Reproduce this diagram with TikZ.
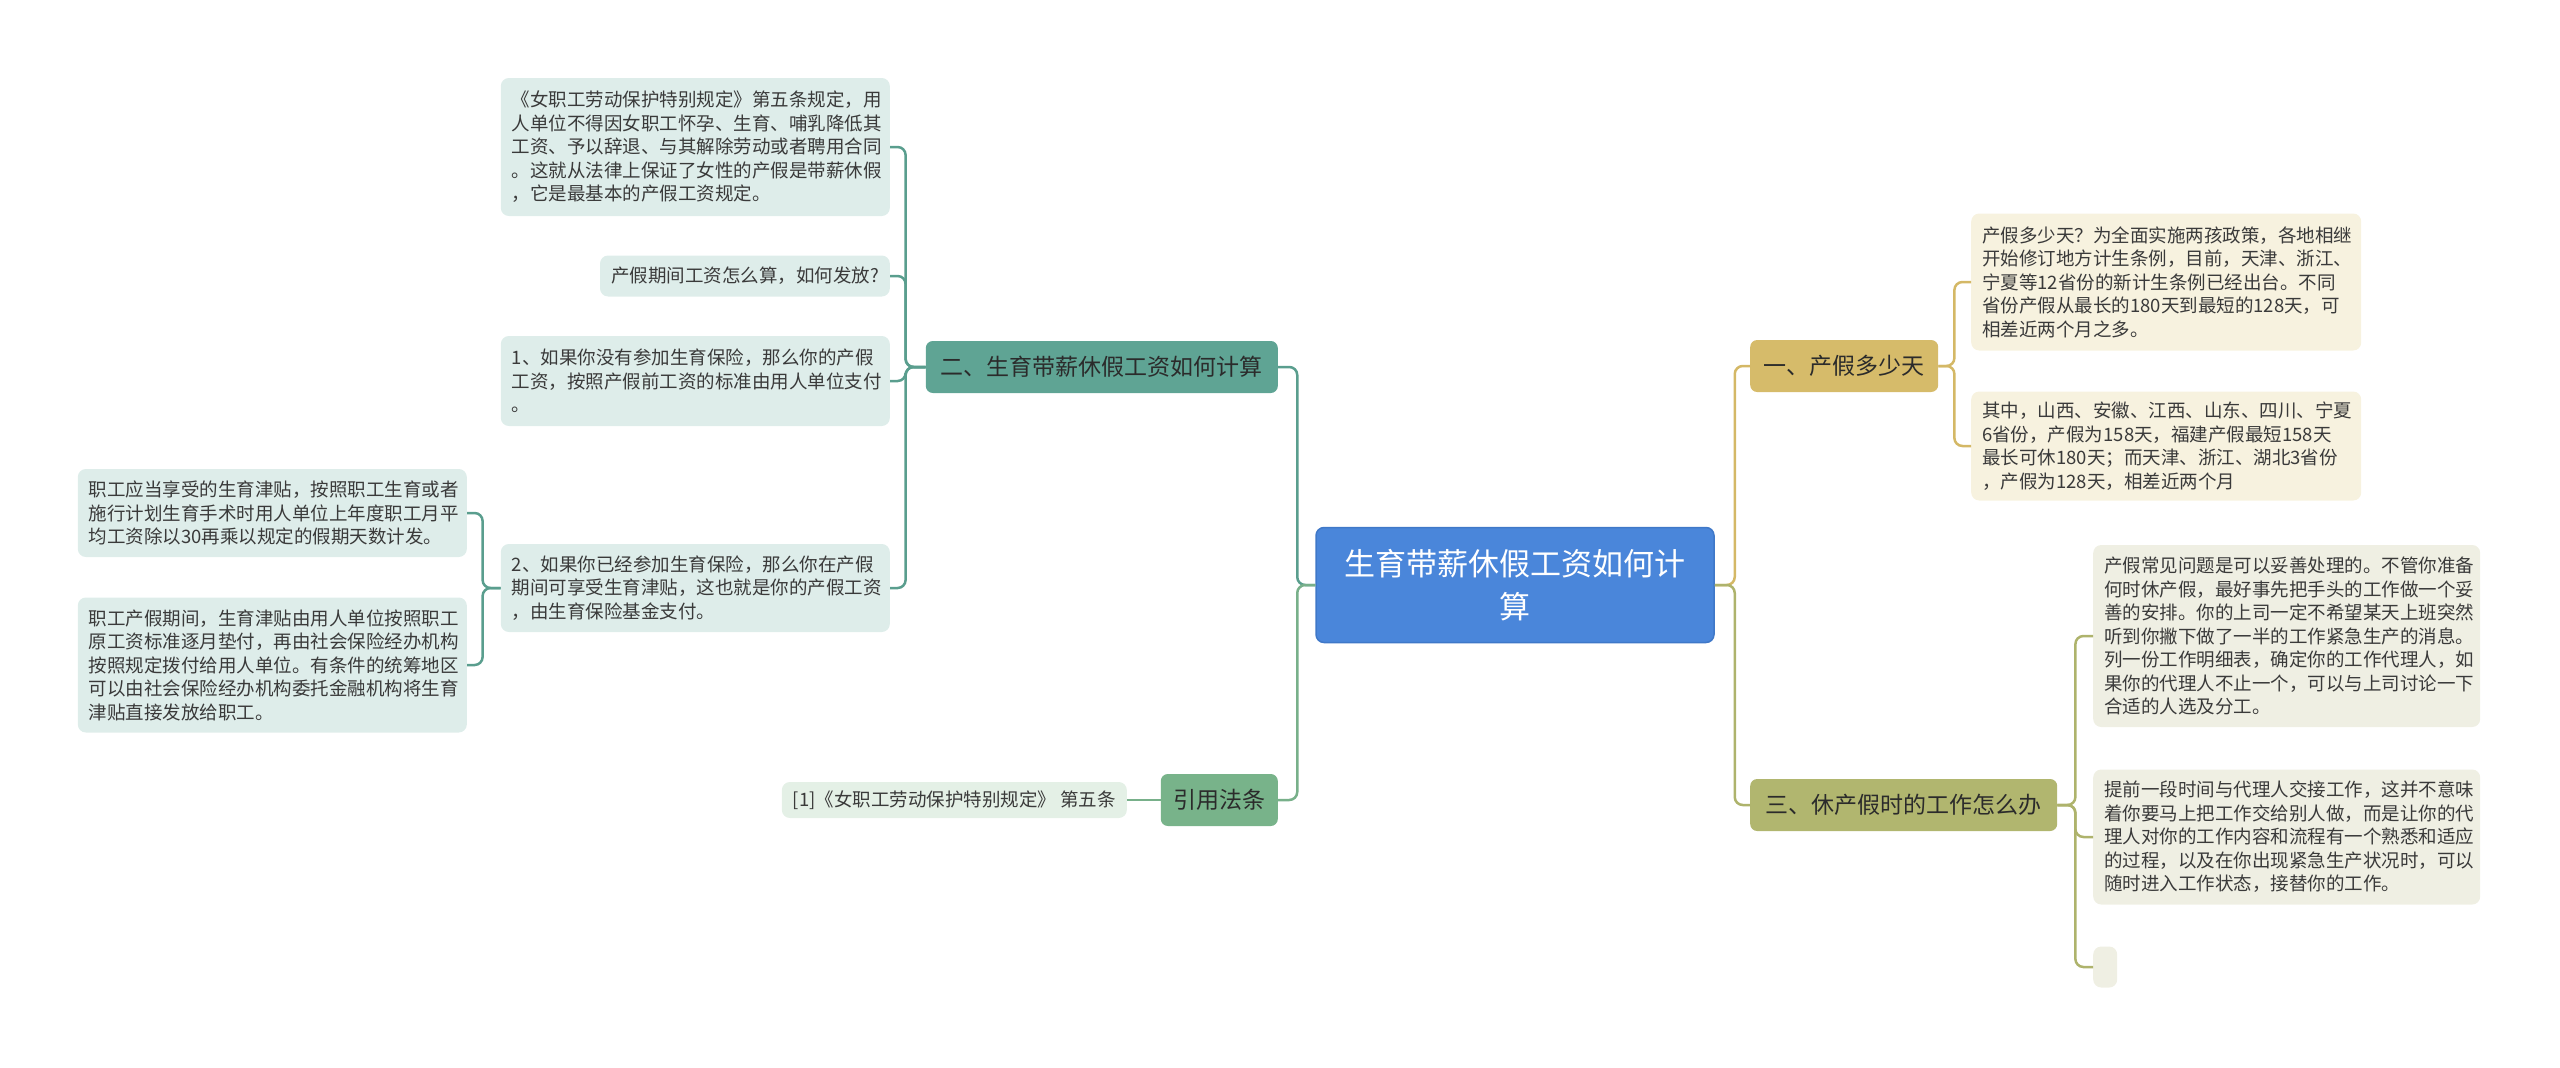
\documentclass[tikz,border=0pt]{standalone}
\usepackage{fontspec}
\setmainfont{Noto Sans CJK SC}
\usetikzlibrary{positioning}

\definecolor{rootblue}{HTML}{4A86DA}
\definecolor{rootedge}{HTML}{3F78C8}
\definecolor{tealbranch}{HTML}{5FA494}
\definecolor{tealleaf}{HTML}{DEEDEA}
\definecolor{tealline}{HTML}{5A9E8E}
\definecolor{greenbranch}{HTML}{78B38A}
\definecolor{greenleaf}{HTML}{E4F0E6}
\definecolor{greenline}{HTML}{78B08A}
\definecolor{goldbranch}{HTML}{D6BB6A}
\definecolor{goldleaf}{HTML}{F7F2DF}
\definecolor{goldline}{HTML}{D4B866}
\definecolor{olivebranch}{HTML}{B1B66F}
\definecolor{oliveleaf}{HTML}{EFEFE3}
\definecolor{oliveline}{HTML}{AEB36C}
\definecolor{branchtext}{HTML}{2B2B2B}
\definecolor{leaftext}{HTML}{3A3A3A}

\begin{document}
\begin{tikzpicture}[x=1pt, y=-1pt,
    root/.style={rectangle, rounded corners=8pt, draw=rootedge, line width=1.5pt, fill=rootblue, text=white, font=\fontsize{31}{43}\selectfont, align=center, minimum width=398pt, minimum height=115pt, inner sep=4pt},
    branch/.style={rectangle, rounded corners=7pt, fill=#1, text=branchtext, font=\fontsize{23}{28}\selectfont, minimum height=52pt, inner sep=0pt},
    leaf/.style={rectangle, rounded corners=8pt, fill=#1, text=leaftext, font=\fontsize{18.5}{23.5}\selectfont, align=left, inner xsep=11pt, inner ysep=4pt},
    conn/.style={line width=2.5pt, draw=#1, rounded corners=8pt}
]
\useasboundingbox (0,0) rectangle (2560,1068);

\node[root] (root) at (1515,585) {生育带薪休假工资如何计\\算};

\node[branch=tealbranch, minimum width=352pt, anchor=east] (wage) at (1278,367) {二、生育带薪休假工资如何计算};
\node[branch=greenbranch, minimum width=117pt, anchor=east] (cite) at (1278,800) {引用法条};
\node[branch=goldbranch, minimum width=188pt, anchor=west] (days) at (1750,366) {一、产假多少天};
\node[branch=olivebranch, minimum width=307pt, anchor=west] (work) at (1750,805) {三、休产假时的工作怎么办};

\node[leaf=tealleaf, text width=367pt, minimum height=138pt, anchor=east] (law) at (890,147) {《女职工劳动保护特别规定》第五条规定，用\\人单位不得因女职工怀孕、生育、哺乳降低其\\工资、予以辞退、与其解除劳动或者聘用合同\\。这就从法律上保证了女性的产假是带薪休假\\，它是最基本的产假工资规定。};
\node[leaf=tealleaf, minimum height=41pt, anchor=east] (ask) at (890,276) {产假期间工资怎么算，如何发放?};
\node[leaf=tealleaf, text width=367pt, minimum height=90pt, anchor=east] (nofund) at (890,381) {1、如果你没有参加生育保险，那么你的产假\\工资，按照产假前工资的标准由用人单位支付\\。};
\node[leaf=tealleaf, text width=367pt, minimum height=88pt, anchor=east] (fund) at (890,588) {2、如果你已经参加生育保险，那么你在产假\\期间可享受生育津贴，这也就是你的产假工资\\，由生育保险基金支付。};
\node[leaf=tealleaf, text width=367pt, minimum height=88pt, anchor=east] (allow) at (467,513) {职工应当享受的生育津贴，按照职工生育或者\\施行计划生育手术时用人单位上年度职工月平\\均工资除以30再乘以规定的假期天数计发。};
\node[leaf=tealleaf, text width=367pt, minimum height=135pt, anchor=east] (advance) at (467,665) {职工产假期间，生育津贴由用人单位按照职工\\原工资标准逐月垫付，再由社会保险经办机构\\按照规定拨付给用人单位。有条件的统筹地区\\可以由社会保险经办机构委托金融机构将生育\\津贴直接发放给职工。};
\node[leaf=greenleaf, minimum height=36pt, anchor=east] (ref) at (1127,800) {[1]《女职工劳动保护特别规定》 第五条};

\node[leaf=goldleaf, text width=368pt, minimum height=137pt, anchor=west] (policy) at (1971,282) {产假多少天？为全面实施两孩政策，各地相继\\开始修订地方计生条例，目前，天津、浙江、\\宁夏等12省份的新计生条例已经出台。不同\\省份产假从最长的180天到最短的128天，可\\相差近两个月之多。};
\node[leaf=goldleaf, text width=368pt, minimum height=109pt, anchor=west] (provinces) at (1971,446) {其中，山西、安徽、江西、山东、四川、宁夏\\6省份，产假为158天，福建产假最短158天\\最长可休180天；而天津、浙江、湖北3省份\\，产假为128天，相差近两个月};

\node[leaf=oliveleaf, text width=365pt, minimum height=182pt, anchor=west] (plan) at (2093,636) {产假常见问题是可以妥善处理的。不管你准备\\何时休产假，最好事先把手头的工作做一个妥\\善的安排。你的上司一定不希望某天上班突然\\听到你撇下做了一半的工作紧急生产的消息。\\列一份工作明细表，确定你的工作代理人，如\\果你的代理人不止一个，可以与上司讨论一下\\合适的人选及分工。};
\node[leaf=oliveleaf, text width=365pt, minimum height=135pt, anchor=west] (handover) at (2093,837) {提前一段时间与代理人交接工作，这并不意味\\着你要马上把工作交给别人做，而是让你的代\\理人对你的工作内容和流程有一个熟悉和适应\\的过程，以及在你出现紧急生产状况时，可以\\随时进入工作状态，接替你的工作。};
\node[leaf=oliveleaf, minimum width=24pt, minimum height=41pt, inner xsep=0pt, anchor=west] (blank) at (2093,967) {};

\draw[conn=tealline] (root.west) -- ++(-18,0) |- (wage.east);
\draw[conn=greenline] (root.west) -- ++(-18,0) |- (cite.east);
\draw[conn=goldline] (root.east) -- ++(20,0) |- (days.west);
\draw[conn=oliveline] (root.east) -- ++(20,0) |- (work.west);

\foreach \leafname in {law, ask, nofund, fund}
  \draw[conn=tealline] (wage.west) -- ++(-20,0) |- (\leafname.east);
\foreach \leafname in {allow, advance}
  \draw[conn=tealline] (fund.west) -- ++(-18,0) |- (\leafname.east);
\draw[conn=greenline] (cite.west) -- (ref.east);
\foreach \leafname in {policy, provinces}
  \draw[conn=goldline] (days.east) -- ++(16,0) |- (\leafname.west);
\foreach \leafname in {plan, handover, blank}
  \draw[conn=oliveline] (work.east) -- ++(18,0) |- (\leafname.west);

\end{tikzpicture}
\end{document}
